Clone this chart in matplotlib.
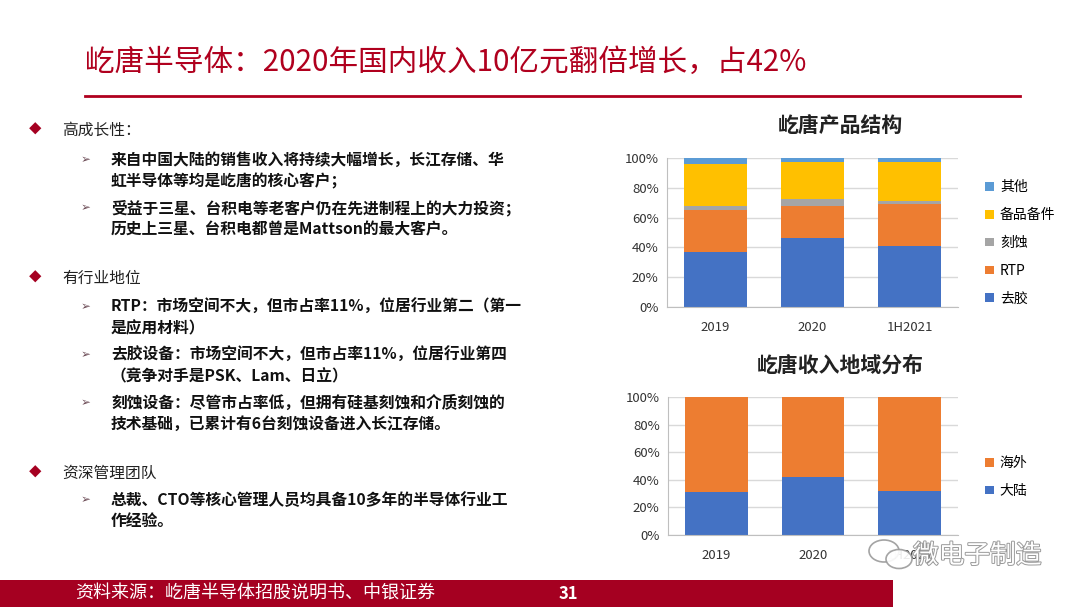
import matplotlib
matplotlib.use('Agg')
import matplotlib.pyplot as plt
import matplotlib.patheffects as pe
from matplotlib.patches import Rectangle, Ellipse
from matplotlib.lines import Line2D
import numpy as np

plt.rcParams['font.family'] = ['Noto Sans CJK SC', 'DejaVu Sans']

W, H = 1080, 607

# chart data (percent)
years = ['2019', '2020', '1H2021']
product_names = ['去胶', 'RTP', '刻蚀', '备品备件', '其他']
degum = [37.1, 46.5, 41.1]
rtp = [28.1, 21.4, 28.3]
etch = [2.7, 4.9, 1.6]
spares = [28.3, 24.3, 26.5]
other = [3.8, 2.9, 2.5]
product_colors = ['#4472C4', '#ED7D31', '#A5A5A5', '#FFC000', '#5B9BD5']

region_names = ['大陆', '海外']
mainland = [30.8, 41.9, 32.0]
overseas = [69.2, 58.1, 68.0]
region_colors = ['#4472C4', '#ED7D31']

title = '屹唐半导体：2020年国内收入10亿元翻倍增长，占42%'
bullets = [
    ('main', '高成长性：', 130),
    ('sub', '来自中国大陆的销售收入将持续大幅增长，长江存储、华', 160),
    ('cont', '虹半导体等均是屹唐的核心客户；', 181),
    ('sub', '受益于三星、台积电等老客户仍在先进制程上的大力投资；', 208),
    ('cont', '历史上三星、台积电都曾是Mattson的最大客户。', 229),
    ('main', '有行业地位', 278),
    ('sub', 'RTP：市场空间不大，但市占率11%，位居行业第二（第一', 307),
    ('cont', '是应用材料）', 328),
    ('sub', '去胶设备：市场空间不大，但市占率11%，位居行业第四', 355),
    ('cont', '（竞争对手是PSK、Lam、日立）', 376),
    ('sub', '刻蚀设备：尽管市占率低，但拥有硅基刻蚀和介质刻蚀的', 403),
    ('cont', '技术基础，已累计有6台刻蚀设备进入长江存储。', 424),
    ('main', '资深管理团队', 473),
    ('sub', '总裁、CTO等核心管理人员均具备10多年的半导体行业工', 500),
    ('cont', '作经验。', 521),
]
source = '资料来源：屹唐半导体招股说明书、中银证券'
page_no = '31'


def fx(x):
    return x / W


def fy(y):
    return 1 - y / H


fig = plt.figure(figsize=(W / 100, H / 100), dpi=100)
fig.patch.set_facecolor('white')

# header
fig.text(fx(85), fy(62), title, color='#B0001E', fontsize=21.3, va='center', ha='left')
fig.add_artist(Line2D([fx(85), fx(1020)], [fy(96), fy(96)], color='#B0001E', lw=2))

# left text block
for kind, txt, y in bullets:
    if kind == 'main':
        fig.text(fx(29), fy(y), '◆', color='#A50021', fontsize=9, va='center', ha='left')
        fig.text(fx(62), fy(y), txt, color='#222222', fontsize=11.3, va='center', ha='left')
    else:
        if kind == 'sub':
            fig.text(fx(81), fy(y), '➢', color='#6B4A55', fontsize=8.5, va='center', ha='left',
                     family=['DejaVu Sans'])
        fig.text(fx(111), fy(y), txt, color='#111111', fontsize=11.35, va='center', ha='left',
                 weight='bold')

# footer
fig.add_artist(Rectangle((0, 0), fx(893), 27 / H, transform=fig.transFigure,
                         facecolor='#A50021', edgecolor='none'))
fig.text(fx(75), fy(594), source, color='white', fontsize=13, va='center', ha='left')
fig.text(fx(568), fy(594), page_no, color='white', fontsize=12, va='center', ha='center',
         weight='bold')


def style_axes(ax):
    ax.set_ylim(0, 100)
    ax.set_xlim(-0.5, 2.5)
    ax.set_yticks(np.arange(0, 101, 20))
    ax.set_yticklabels([f'{v}%' for v in range(0, 101, 20)])
    ax.yaxis.grid(True, color='#D9D9D9', lw=1)
    ax.set_axisbelow(True)
    for s in ['top', 'right']:
        ax.spines[s].set_visible(False)
    ax.spines['left'].set_color('#BFBFBF')
    ax.spines['bottom'].set_color('#BFBFBF')
    ax.tick_params(axis='both', length=0, labelsize=9.5, colors='#333333', pad=6)
    ax.tick_params(axis='x', pad=10)
    ax.set_xticks(range(len(years)))
    ax.set_xticklabels(years)


x = np.arange(len(years))
bw = 0.65
leg_kw = dict(loc='center left', frameon=False, fontsize=10, handlelength=0.6,
              handleheight=0.6, handletextpad=0.45, labelspacing=1.0, borderaxespad=0)

# top chart: product structure
ax1 = fig.add_axes([fx(667), fy(307), fx(958 - 667), (307 - 158) / H])
bottom = np.zeros(len(years))
handles = []
for name, vals, col in zip(product_names, [degum, rtp, etch, spares, other], product_colors):
    b = ax1.bar(x, vals, bw, bottom=bottom, color=col, label=name)
    handles.append(b)
    bottom += np.array(vals)
style_axes(ax1)
fig.text(fx(840), fy(126), '屹唐产品结构', fontsize=15, weight='bold', color='#222222',
         ha='center', va='center')
ax1.legend(handles[::-1], product_names[::-1], bbox_to_anchor=(1.075, 0.43), **leg_kw)

# bottom chart: revenue by region
ax2 = fig.add_axes([fx(668), fy(535), fx(958 - 668), (535 - 397) / H])
bottom = np.zeros(len(years))
handles = []
for name, vals, col in zip(region_names, [mainland, overseas], region_colors):
    b = ax2.bar(x, vals, bw, bottom=bottom, color=col, label=name)
    handles.append(b)
    bottom += np.array(vals)
style_axes(ax2)
fig.text(fx(840), fy(365), '屹唐收入地域分布', fontsize=15, weight='bold', color='#222222',
         ha='center', va='center')
ax2.legend(handles[::-1], region_names[::-1], bbox_to_anchor=(1.075, 0.42), **leg_kw)

# watermark: chat-bubble icon and account name
for (cx, cy, ew, eh) in [(884, 551, 30, 22), (899, 559, 26, 19)]:
    fig.add_artist(Ellipse((fx(cx), fy(cy)), ew / W, eh / H, transform=fig.transFigure,
                           facecolor='white', edgecolor='#9A9A9A', lw=1.2, alpha=0.9))
fig.text(fx(913), fy(556), '微电子制造', fontsize=18.5, color='white', ha='left', va='center',
         path_effects=[pe.withStroke(linewidth=1.4, foreground='#9A9A9A')])

fig.savefig('out.png', dpi=100)
